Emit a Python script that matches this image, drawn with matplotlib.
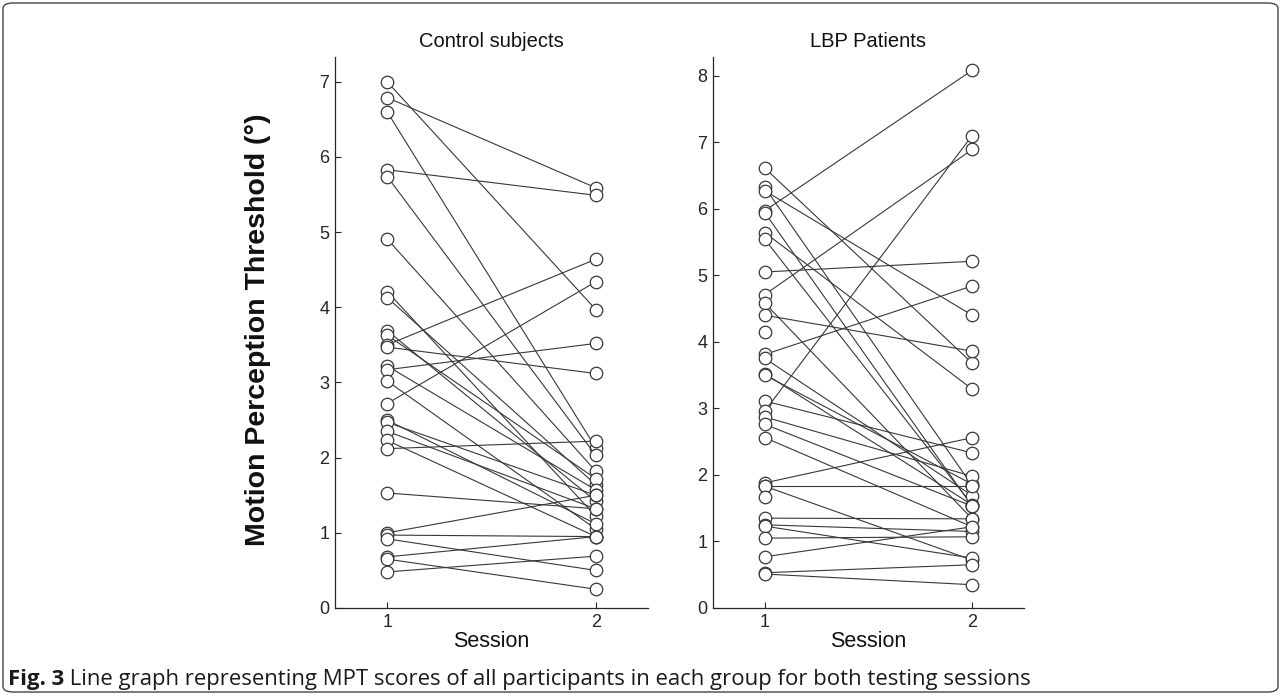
import numpy as np
import matplotlib
matplotlib.use("Agg")
import matplotlib.pyplot as plt
from matplotlib.patches import FancyBboxPatch

# ---------------- data ----------------
sessions = [1, 2]
session_ticks = [1, 2]

control_s1 = [7.00, 6.79, 6.60, 5.83, 5.74, 4.91, 4.21, 4.13, 3.69, 3.63,
              3.50, 3.47, 3.22, 3.17, 3.02, 2.72, 2.50, 2.47, 2.35, 2.23,
              2.12, 1.53, 1.00, 0.97, 0.92, 0.68, 0.65, 0.48]
control_s2 = [3.97, 5.59, 2.13, 5.49, 2.03, 1.82, 1.22, 1.64, 1.42, 1.72,
              4.64, 3.12, 1.57, 3.52, 1.05, 4.34, 1.12, 1.50, 1.32, 0.95,
              2.22, 1.32, 1.50, 0.95, 0.50, 0.95, 0.25, 0.69]

lbp_s1 = [6.61, 6.32, 6.27, 5.97, 5.94, 5.64, 5.54, 5.05, 4.71, 4.58,
          4.40, 4.15, 3.81, 3.75, 3.52, 3.50, 3.11, 2.96, 2.87, 2.76,
          2.56, 1.88, 1.84, 1.83, 1.67, 1.35, 1.25, 1.23, 1.05, 0.77,
          0.53, 0.51]
lbp_s2 = [3.68, 1.84, 4.40, 8.08, 1.53, 3.29, 1.55, 5.21, 6.89, 1.34,
          3.86, np.nan, 4.84, 1.69, 1.55, 1.86, 2.33, 7.10, 1.98, 1.53,
          1.22, 2.56, 1.84, 0.72, np.nan, 1.34, 1.15, 0.75, 1.07, 1.22,
          0.65, 0.35]

control_yticks = [0, 1, 2, 3, 4, 5, 6, 7]
lbp_yticks = [0, 1, 2, 3, 4, 5, 6, 7, 8]

titles = ["Control subjects", "LBP Patients"]
xlabel = "Session"
ylabel = "Motion Perception Threshold (\u00b0)"
caption_bold = "Fig. 3"
caption_rest = " Line graph representing MPT scores of all participants in each group for both testing sessions"

# ---------------- style ----------------
plt.rcParams['font.family'] = ['Liberation Sans', 'DejaVu Sans']
W, H = 1281, 695
fig = plt.figure(figsize=(W / 100, H / 100), dpi=100)

line_c = '#383838'
axis_c = '#262626'


def px_rect(x0, y0, x1, y1):
    """pixel box (top-left origin) -> figure fraction rect"""
    return [x0 / W, 1 - y1 / H, (x1 - x0) / W, (y1 - y0) / H]


def panel(rect, s1, s2, yticks, ymax, title):
    ax = fig.add_axes(rect)
    for a, b in zip(s1, s2):
        ax.plot(sessions, [a, b], color=line_c, lw=0.8, marker='o', ms=9,
                mfc='white', mec=line_c, mew=0.9, solid_capstyle='butt')
    ax.set_xlim(0.75, 2.25)
    ax.set_ylim(0, ymax)
    ax.set_xticks(session_ticks)
    ax.set_yticks(yticks)
    for s in ['top', 'right']:
        ax.spines[s].set_visible(False)
    for s in ['left', 'bottom']:
        ax.spines[s].set_color(axis_c)
        ax.spines[s].set_linewidth(0.9)
    ax.tick_params(direction='in', length=4, width=0.8, colors=axis_c,
                   labelsize=13, pad=4)
    ax.set_title(title, fontsize=14.5, pad=7, color='#111111')
    ax.set_xlabel(xlabel, fontsize=15.5, labelpad=0, color='#111111')
    return ax


ax1 = panel(px_rect(335, 57, 648, 608), control_s1, control_s2,
            control_yticks, 7.33, titles[0])
ax2 = panel(px_rect(713, 57, 1024, 608), lbp_s1, lbp_s2,
            lbp_yticks, 8.28, titles[1])

fig.text(258 / W, 1 - 330 / H, ylabel, rotation=90, ha='center', va='center',
         fontsize=20.5, fontweight='bold', color='#111111')

# ---------------- frame and caption ----------------
frame = FancyBboxPatch((3 / W, 3 / H), (W - 6) / W, (H - 6) / H,
                       boxstyle="round,pad=0,rounding_size=0.008",
                       transform=fig.transFigure, fill=False,
                       edgecolor='#444444', linewidth=1.0)
fig.patches.append(frame)

renderer = fig.canvas.get_renderer()
cap_y = 1 - 679 / H
fs = 15.9
t1 = fig.text(8 / W, cap_y, caption_bold, fontsize=fs, fontweight='bold',
              family=['Open Sans', 'DejaVu Sans'], va='center', ha='left',
              color='#1a1a1a')
bb = t1.get_window_extent(renderer)
t2 = fig.text(bb.x1 / W, cap_y, caption_rest, fontsize=fs,
              family=['Open Sans', 'DejaVu Sans'], va='center', ha='left',
              color='#1a1a1a')

fig.savefig('out.png', dpi=100)
